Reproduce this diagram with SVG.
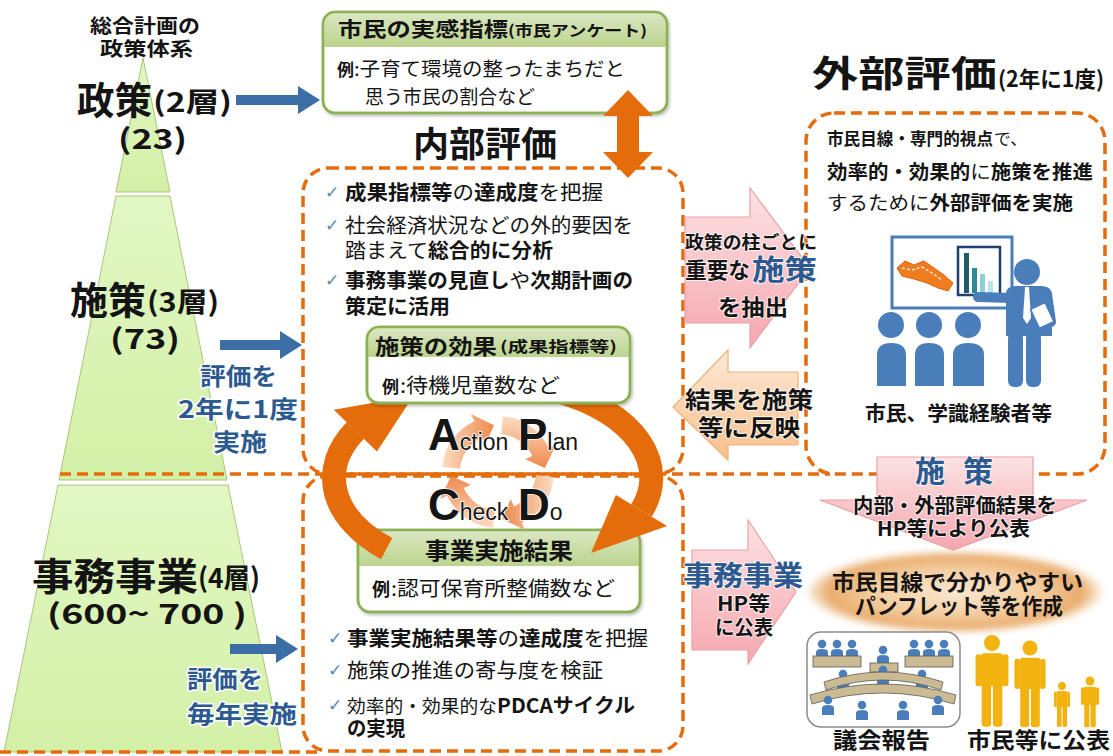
<svg xmlns="http://www.w3.org/2000/svg" width="1113" height="756" viewBox="0 0 1113 756">
<defs>
<style>
.t{font-family:"Noto Sans CJK JP","Noto Sans",sans-serif;fill:#141414;font-weight:700}
.n{font-weight:400}
.blue{fill:#2c5a90}
.halo{stroke:#fff;stroke-width:3;paint-order:stroke;stroke-linejoin:round}
.halo2{stroke:#fff;stroke-opacity:.75;stroke-width:2;paint-order:stroke;stroke-linejoin:round}
.dash{fill:none;stroke:#e46c0a;stroke-width:3.5;stroke-dasharray:11 6}
.chk{font-family:"DejaVu Sans",sans-serif;fill:#5e87a8;font-size:17px}
.pdca{font-family:"Liberation Sans",Arial,sans-serif;fill:#151515;stroke:#fff;stroke-width:1.5;paint-order:stroke}
.big{font-size:44px;font-weight:700}
.sm{font-size:23px;font-weight:400}
.ppl{fill:#4a7ebb}
.fam{fill:#f2b311}
.gbox{fill:#fff;stroke:#8db255;stroke-width:2.5}
.bluearrow{fill:#3a6ea5}
.orange{fill:#e46c0a}
.arc{fill:none;stroke:#e46c0a;stroke-width:24}
.desk{fill:#cbbb92;stroke:#5a5a5a;stroke-width:.8}
</style>
<linearGradient id="hdr" x1="0" y1="0" x2="0" y2="1"><stop offset="0" stop-color="#dbe8c3"/><stop offset="1" stop-color="#bcd38e"/></linearGradient>
<linearGradient id="pink" x1="0" y1="0" x2="0" y2="1"><stop offset="0" stop-color="#fde2e4"/><stop offset="1" stop-color="#f5a7ae"/></linearGradient>
<linearGradient id="peach" x1="0" y1="0" x2="0" y2="1"><stop offset="0" stop-color="#fde9d6"/><stop offset="1" stop-color="#f8bf8a"/></linearGradient>
<radialGradient id="glow" cx="0.5" cy="0.5" r="0.5"><stop offset="0" stop-color="#fbe8d2"/><stop offset="0.55" stop-color="#f4cd9f"/><stop offset="0.85" stop-color="#e9ac6c"/><stop offset="1" stop-color="#e9ac6c" stop-opacity="0"/></radialGradient>
<linearGradient id="ring" x1="0" y1="0" x2="1" y2="0"><stop offset="0" stop-color="#fcdcc4"/><stop offset="1" stop-color="#ee8a4c"/></linearGradient>
<linearGradient id="pyr" x1="0" y1="0" x2="0" y2="1"><stop offset="0" stop-color="#e2f7c4"/><stop offset="1" stop-color="#d3f0a6"/></linearGradient>
<filter id="shadow" x="-10%" y="-10%" width="125%" height="130%"><feDropShadow dx="1.5" dy="2" stdDeviation="1.5" flood-color="#000" flood-opacity="0.25"/></filter>
<filter id="soft" x="-10%" y="-20%" width="120%" height="140%"><feGaussianBlur stdDeviation="3"/></filter>
<g id="seat"><circle cx="0" cy="-6" r="4.3"/><path d="M-6 9 V2 Q-6 -1 0 -1 Q6 -1 6 2 V9 Z"/></g>
<g id="walker">
<circle cx="0" cy="0" r="8.5"/>
<path d="M-12 15 Q-12 11 -8 11 H8 Q12 11 12 15 V46 H-12 Z"/>
<rect x="-17.5" y="12" width="6" height="34" rx="3"/>
<rect x="11.5" y="12" width="6" height="34" rx="3"/>
<rect x="-11" y="42" width="10" height="47" rx="3"/>
<rect x="1" y="42" width="10" height="47" rx="3"/>
</g>
<path id="ringseg" d="M442.2 467.1 A56 56 0 0 1 474.3 421.2 L471 414 L493.9 425.2 L485.3 444.8 L481.9 437.6 A38 38 0 0 0 460.1 468.7 Z"/>
</defs>

<rect width="1113" height="756" fill="#fff"/>

<!-- policy pyramid -->
<g id="pyramid" fill="url(#pyr)" stroke="#a9c67c" stroke-width="1">
<polygon points="143,58 170,192 116,192"/>
<polygon points="116,196 170,196 227,480 59,480"/>
<polygon points="58,485 228,485 282,752 4,752"/>
</g>

<!-- dashed frames -->
<g id="frames">
<rect class="dash" x="303" y="168" width="380" height="306" rx="25"/>
<rect class="dash" x="303" y="476" width="380" height="275" rx="25"/>
<rect class="dash" x="806" y="113" width="299" height="361" rx="28"/>
<line class="dash" x1="60" y1="474" x2="830" y2="474"/>
<line class="dash" x1="0" y1="752" x2="320" y2="752"/>
</g>

<!-- pyramid labels -->
<g id="layer-labels">
<text class="t" x="90" y="33" font-size="19" textLength="110" lengthAdjust="spacingAndGlyphs">総合計画の</text>
<text class="t" x="100" y="56" font-size="19" textLength="93" lengthAdjust="spacingAndGlyphs">政策体系</text>
<text class="t" x="77" y="114" font-size="38" textLength="75" lengthAdjust="spacingAndGlyphs">政策</text>
<text class="t" x="153" y="112" font-size="27" textLength="79" lengthAdjust="spacingAndGlyphs">(2層)</text>
<text class="t" x="118" y="149" font-size="28" textLength="69" lengthAdjust="spacingAndGlyphs">(23)</text>
<text class="t" x="70" y="314" font-size="38" textLength="76" lengthAdjust="spacingAndGlyphs">施策</text>
<text class="t" x="147" y="312" font-size="27" textLength="72" lengthAdjust="spacingAndGlyphs">(3層)</text>
<text class="t" x="110" y="349" font-size="28" textLength="70" lengthAdjust="spacingAndGlyphs">(73)</text>
<text class="t" x="32" y="590" font-size="38" textLength="166" lengthAdjust="spacingAndGlyphs">事務事業</text>
<text class="t" x="198" y="588" font-size="27" textLength="62" lengthAdjust="spacingAndGlyphs">(4層)</text>
<text class="t" x="47" y="624" font-size="28" textLength="200" lengthAdjust="spacingAndGlyphs">(600~ 700 )</text>
<text class="t blue halo" x="200" y="385" font-size="24" textLength="77" lengthAdjust="spacingAndGlyphs">評価を</text>
<text class="t blue halo" x="178" y="418" font-size="24" textLength="120" lengthAdjust="spacingAndGlyphs">2年に1度</text>
<text class="t blue halo" x="213" y="451" font-size="24" textLength="54" lengthAdjust="spacingAndGlyphs">実施</text>
<text class="t blue halo" x="187" y="688" font-size="24" textLength="76" lengthAdjust="spacingAndGlyphs">評価を</text>
<text class="t blue halo" x="187" y="723" font-size="24" textLength="110" lengthAdjust="spacingAndGlyphs">毎年実施</text>
</g>

<!-- citizen indicator box -->
<g id="box-citizen">
<rect class="gbox" x="323" y="12" width="344" height="101" rx="12" filter="url(#shadow)"/>
<path d="M335 12 H655 Q667 12 667 24 V47 H323 V24 Q323 12 335 12 Z" fill="url(#hdr)"/>
<rect x="323" y="12" width="344" height="101" rx="12" fill="none" stroke="#8db255" stroke-width="2.5"/>
<text class="t" x="338" y="37" font-size="20" textLength="170" lengthAdjust="spacingAndGlyphs">市民の実感指標</text>
<text class="t" x="508" y="36" font-size="15" textLength="139" lengthAdjust="spacingAndGlyphs">(市民アンケート)</text>
<text class="t" x="337" y="76" font-size="17" textLength="17" lengthAdjust="spacingAndGlyphs">例</text>
<text class="t n" x="354" y="76" font-size="19" textLength="271" lengthAdjust="spacingAndGlyphs">:子育て環境の整ったまちだと</text>
<text class="t n" x="365" y="104" font-size="19" textLength="170" lengthAdjust="spacingAndGlyphs">思う市民の割合など</text>
</g>

<g id="title-internal">
<text class="t" x="413" y="157" font-size="35" textLength="144" lengthAdjust="spacingAndGlyphs">内部評価</text>
</g>

<!-- internal evaluation points -->
<g id="internal-points">
<text class="chk" x="325" y="198">✓</text>
<text class="chk" x="325" y="231">✓</text>
<text class="chk" x="325" y="286">✓</text>
<text class="t" x="345" y="200" font-size="20" textLength="107.5" lengthAdjust="spacingAndGlyphs">成果指標等</text>
<text class="t n" x="452.5" y="200" font-size="20" textLength="21.5" lengthAdjust="spacingAndGlyphs">の</text>
<text class="t" x="474" y="200" font-size="20" textLength="64.5" lengthAdjust="spacingAndGlyphs">達成度</text>
<text class="t n" x="538.5" y="200" font-size="20" textLength="64.5" lengthAdjust="spacingAndGlyphs">を把握</text>
<text class="t n" x="345" y="233" font-size="20" textLength="288" lengthAdjust="spacingAndGlyphs">社会経済状況などの外的要因を</text>
<text class="t n" x="345" y="258" font-size="20" textLength="83" lengthAdjust="spacingAndGlyphs">踏まえて</text>
<text class="t" x="428" y="258" font-size="20" textLength="125" lengthAdjust="spacingAndGlyphs">総合的に分析</text>
<text class="t" x="345" y="288" font-size="20" textLength="164.6" lengthAdjust="spacingAndGlyphs">事務事業の見直し</text>
<text class="t n" x="509.6" y="288" font-size="20" textLength="20.6" lengthAdjust="spacingAndGlyphs">や</text>
<text class="t" x="530.2" y="288" font-size="20" textLength="102.8" lengthAdjust="spacingAndGlyphs">次期計画の</text>
<text class="t" x="345" y="314" font-size="20" textLength="105" lengthAdjust="spacingAndGlyphs">策定に活用</text>
</g>

<!-- project results box -->
<g id="box-results">
<rect class="gbox" x="358" y="530" width="282" height="82" rx="12" filter="url(#shadow)"/>
<path d="M370 530 H628 Q640 530 640 542 V566 H358 V542 Q358 530 370 530 Z" fill="url(#hdr)"/>
<rect x="358" y="530" width="282" height="82" rx="12" fill="none" stroke="#8db255" stroke-width="2.5"/>
<text class="t" x="425" y="559" font-size="23" textLength="148" lengthAdjust="spacingAndGlyphs">事業実施結果</text>
<text class="t" x="372" y="596" font-size="18" textLength="18" lengthAdjust="spacingAndGlyphs">例</text>
<text class="t n" x="391" y="596" font-size="20" textLength="224" lengthAdjust="spacingAndGlyphs">:認可保育所整備数など</text>
</g>

<!-- PDCA cycle -->
<g id="pdca-ring" fill="url(#ring)">
<use href="#ringseg"/>
<use href="#ringseg" transform="rotate(90 498 472)"/>
<use href="#ringseg" transform="rotate(180 498 472)"/>
<use href="#ringseg" transform="rotate(270 498 472)"/>
</g>
<g id="pdca-labels">
<text class="pdca" x="428" y="450"><tspan class="big">A</tspan><tspan class="sm">ction</tspan></text>
<text class="pdca" x="518" y="450"><tspan class="big">P</tspan><tspan class="sm">lan</tspan></text>
<text class="pdca" x="428" y="520"><tspan class="big">C</tspan><tspan class="sm">heck</tspan></text>
<text class="pdca" x="518" y="520"><tspan class="big">D</tspan><tspan class="sm">o</tspan></text>
</g>

<!-- connectors -->
<g id="connectors">
<polygon class="bluearrow" points="236,95 298,95 298,86 320,100 298,114 298,105 236,105"/>
<polygon class="bluearrow" points="220,340 280,340 280,331 302,345 280,359 280,350 220,350"/>
<polygon class="bluearrow" points="230,644 276,644 276,635 298,649 276,663 276,654 230,654"/>
<polygon class="orange" points="628,90 653,116 639,116 639,152 653,152 628,178 603,152 617,152 617,116 603,116"/>
<path class="arc" d="M386.6 548.6 A159 95 0 0 1 355.3 430.5"/>
<polygon class="orange" points="333.7,409.7 413.5,395.7 376.9,451.4"/>
<path class="arc" d="M560.2 391.9 A159 95 0 0 1 641.5 510.5"/>
<polygon class="orange" points="667.1,526.1 591,553 615.9,494.9"/>
</g>

<!-- policy effect box -->
<g id="box-effect">
<rect class="gbox" x="367" y="327" width="263" height="76" rx="12" filter="url(#shadow)"/>
<path d="M379 327 H618 Q630 327 630 339 V357 H367 V339 Q367 327 379 327 Z" fill="url(#hdr)"/>
<rect x="367" y="327" width="263" height="76" rx="12" fill="none" stroke="#8db255" stroke-width="2.5"/>
<text class="t" x="375" y="354" font-size="21" textLength="122" lengthAdjust="spacingAndGlyphs">施策の効果</text>
<text class="t" x="500" y="352" font-size="15" textLength="117" lengthAdjust="spacingAndGlyphs">(成果指標等)</text>
<text class="t" x="382" y="393" font-size="17" textLength="17" lengthAdjust="spacingAndGlyphs">例</text>
<text class="t n" x="400" y="393" font-size="20" textLength="160" lengthAdjust="spacingAndGlyphs">:待機児童数など</text>
</g>

<!-- project evaluation points -->
<g id="project-points">
<text class="chk" x="328" y="644">✓</text>
<text class="chk" x="328" y="676">✓</text>
<text class="chk" x="328" y="711">✓</text>
<text class="t" x="347" y="646" font-size="20" textLength="150.5" lengthAdjust="spacingAndGlyphs">事業実施結果等</text>
<text class="t n" x="497.5" y="646" font-size="20" textLength="21.5" lengthAdjust="spacingAndGlyphs">の</text>
<text class="t" x="519" y="646" font-size="20" textLength="64.5" lengthAdjust="spacingAndGlyphs">達成度</text>
<text class="t n" x="583.5" y="646" font-size="20" textLength="64.5" lengthAdjust="spacingAndGlyphs">を把握</text>
<text class="t n" x="347" y="678" font-size="20" textLength="256" lengthAdjust="spacingAndGlyphs">施策の推進の寄与度を検証</text>
<text class="t n" x="347" y="713" font-size="18.7" textLength="150" lengthAdjust="spacingAndGlyphs">効率的・効果的な</text>
<text class="t" x="497" y="713" font-size="20" textLength="138" lengthAdjust="spacingAndGlyphs">PDCAサイクル</text>
<text class="t" x="347" y="736" font-size="20" textLength="58" lengthAdjust="spacingAndGlyphs">の実現</text>
</g>

<!-- block arrows between internal and external evaluation -->
<g id="arrow-extract">
<polygon points="685,217 750,217 750,188 810,268 750,348 750,323 685,323" fill="url(#pink)" stroke="#eba0a6" stroke-width="1.2"/>
<text class="t halo2" x="685" y="249" font-size="18" textLength="132" lengthAdjust="spacingAndGlyphs">政策の柱ごとに</text>
<text class="t halo2" x="685" y="278" font-size="21.5" textLength="65" lengthAdjust="spacingAndGlyphs">重要な</text>
<text class="t blue halo2" x="752" y="280" font-size="28" textLength="65" lengthAdjust="spacingAndGlyphs">施策</text>
<text class="t halo2" x="718" y="315" font-size="22" textLength="70" lengthAdjust="spacingAndGlyphs">を抽出</text>
</g>
<g id="arrow-reflect">
<polygon points="673,407 728,350 728,372 798,372 798,445 728,445 728,460" fill="url(#peach)" stroke="#f0b27a" stroke-width="1.2"/>
<text class="t halo2" x="685" y="408" font-size="23" textLength="128" lengthAdjust="spacingAndGlyphs">結果を施策</text>
<text class="t halo2" x="698" y="436" font-size="23" textLength="102" lengthAdjust="spacingAndGlyphs">等に反映</text>
</g>
<g id="arrow-project">
<polygon points="692,550 748,550 748,520 796,592 748,664 748,650 692,650" fill="url(#pink)" stroke="#eba0a6" stroke-width="1.2"/>
<text class="t blue halo2" x="683" y="586" font-size="28" textLength="120" lengthAdjust="spacingAndGlyphs">事務事業</text>
<text class="t halo2" x="717" y="611" font-size="20" textLength="53" lengthAdjust="spacingAndGlyphs">HP等</text>
<text class="t halo2" x="715" y="635" font-size="20" textLength="58" lengthAdjust="spacingAndGlyphs">に公表</text>
</g>

<!-- external evaluation -->
<g id="external">
<text class="t" x="812" y="87" font-size="36" textLength="185" lengthAdjust="spacingAndGlyphs">外部評価</text>
<text class="t" x="998" y="87" font-size="22" textLength="106" lengthAdjust="spacingAndGlyphs">(2年に1度)</text>
<text class="t" x="827" y="145" font-size="16.6" textLength="166" lengthAdjust="spacingAndGlyphs">市民目線・専門的視点</text>
<text class="t n" x="994" y="145" font-size="17" textLength="33" lengthAdjust="spacingAndGlyphs">で、</text>
<text class="t" x="827" y="179" font-size="19" textLength="143.2" lengthAdjust="spacingAndGlyphs">効率的・効果的</text>
<text class="t n" x="970.2" y="179" font-size="19" textLength="20.5" lengthAdjust="spacingAndGlyphs">に</text>
<text class="t" x="990.7" y="179" font-size="19" textLength="102.3" lengthAdjust="spacingAndGlyphs">施策を推進</text>
<text class="t n" x="827" y="210" font-size="19" textLength="102.5" lengthAdjust="spacingAndGlyphs">するために</text>
<text class="t" x="929.5" y="210" font-size="19" textLength="143.5" lengthAdjust="spacingAndGlyphs">外部評価を実施</text>
<!-- presentation board -->
<rect x="892" y="237" width="120" height="71" fill="#fff" stroke="#4a7ebb" stroke-width="3"/>
<path d="M897 268 L905 261 L914 265 L924 261 L934 268 L944 275 L953 283 L948 291 L938 288 L927 283 L914 279 L902 276 Z" fill="#f07c20" stroke="#e06010" stroke-width="1"/>
<path d="M902 268 L912 270 L922 267 L932 273 L942 280" fill="none" stroke="#fff" stroke-width="1.2" stroke-dasharray="3 2"/>
<rect x="958" y="247" width="42" height="48" fill="#fff" stroke="#1f3f6e" stroke-width="2.5"/>
<rect x="964" y="253" width="5" height="40" fill="#1f5c66"/>
<rect x="972" y="268" width="5" height="25" fill="#2e8a9a"/>
<rect x="980" y="274" width="5" height="19" fill="#8fcfd8"/>
<rect x="988" y="281" width="5" height="12" fill="#b8e2ea"/>
<!-- presenter -->
<g class="ppl">
<circle cx="1027" cy="272" r="13"/>
<path d="M1006 294 Q1006 286 1016 286 H1041 Q1052 286 1052 296 V336 H1006 Z"/>
<line x1="1012" y1="298" x2="978" y2="297" stroke="#4a7ebb" stroke-width="10" stroke-linecap="round"/>
<line x1="1047" y1="294" x2="1051" y2="322" stroke="#4a7ebb" stroke-width="10" stroke-linecap="round"/>
<rect x="1008" y="332" width="15" height="55" rx="6"/>
<rect x="1026" y="332" width="15" height="55" rx="6"/>
</g>
<polygon points="1025,287 1029,287 1031,318 1027,324 1023,318" fill="#fff"/>
<rect x="1034" y="305" width="16" height="21" fill="#fff" stroke="#4a7ebb" stroke-width="1.5" transform="rotate(-25 1042 315)"/>
<!-- audience -->
<g class="ppl">
<circle cx="891" cy="325" r="13"/>
<circle cx="929" cy="325" r="13"/>
<circle cx="968" cy="325" r="13"/>
<path d="M877 386 V355 Q877 343 891 343 Q906 343 906 355 V386 Z"/>
<path d="M915 386 V355 Q915 343 929 343 Q944 343 944 355 V386 Z"/>
<path d="M953 386 V355 Q953 343 968 343 Q984 343 984 355 V386 Z"/>
</g>
<text class="t" x="865" y="421" font-size="20" textLength="187" lengthAdjust="spacingAndGlyphs">市民、学識経験者等</text>
</g>

<!-- publication -->
<g id="arrow-publish">
<polygon points="877,457 1033,457 1033,500 1087,500 953,550 820,500 877,500" fill="url(#pink)" stroke="#eba0a6" stroke-width="1.2"/>
<text class="t blue halo2" y="482" font-size="30"><tspan x="915">施</tspan><tspan x="963">策</tspan></text>
<text class="t halo2" x="853" y="513" font-size="20" textLength="204" lengthAdjust="spacingAndGlyphs">内部・外部評価結果を</text>
<text class="t halo2" x="877" y="536" font-size="20" textLength="153" lengthAdjust="spacingAndGlyphs">HP等により公表</text>
</g>

<g id="pamphlet">
<ellipse cx="955" cy="592" rx="150" ry="42" fill="url(#glow)" filter="url(#soft)"/>
<text class="t" x="832" y="590" font-size="22" textLength="251" lengthAdjust="spacingAndGlyphs">市民目線で分かりやすい</text>
<text class="t" x="855" y="614" font-size="22" textLength="208" lengthAdjust="spacingAndGlyphs">パンフレット等を作成</text>
</g>

<!-- council report -->
<g id="council">
<rect x="807" y="632" width="153" height="95" rx="14" fill="#fff" stroke="#8c8c8c" stroke-width="1.5"/>
<g class="ppl">
<use href="#seat" transform="translate(822 650)"/>
<use href="#seat" transform="translate(837 650)"/>
<use href="#seat" transform="translate(852 650)"/>
<use href="#seat" transform="translate(883 656)"/>
<use href="#seat" transform="translate(914 650)"/>
<use href="#seat" transform="translate(929 650)"/>
<use href="#seat" transform="translate(944 650)"/>
</g>
<rect class="desk" x="813" y="656" width="48" height="11"/>
<rect class="desk" x="870" y="663" width="28" height="9"/>
<rect class="desk" x="905" y="656" width="48" height="11"/>
<g class="ppl">
<use href="#seat" transform="translate(843 680)"/>
<use href="#seat" transform="translate(883 676)"/>
<use href="#seat" transform="translate(922 680)"/>
</g>
<path class="desk" d="M826 690 Q883 670 941 690 L943 682 Q883 662 824 682 Z"/>
<path class="desk" d="M812 704 Q883 682 954 704 L956 695 Q883 673 810 695 Z"/>
<g class="ppl">
<use href="#seat" transform="translate(828 706)"/>
<use href="#seat" transform="translate(862 711)"/>
<use href="#seat" transform="translate(903 711)"/>
<use href="#seat" transform="translate(938 706)"/>
</g>
<text class="t" x="833" y="748" font-size="22" textLength="97" lengthAdjust="spacingAndGlyphs">議会報告</text>
</g>

<!-- citizens -->
<g id="citizens">
<use href="#walker" class="fam" transform="translate(992 643) scale(0.94)"/>
<use href="#walker" class="fam" transform="translate(1030 648) scale(0.89)"/>
<use href="#walker" class="fam" transform="translate(1062 686) scale(0.46)"/>
<use href="#walker" class="fam" transform="translate(1090 681) scale(0.52)"/>
<text class="t" x="967" y="748" font-size="22" textLength="143" lengthAdjust="spacingAndGlyphs">市民等に公表</text>
</g>
</svg>
